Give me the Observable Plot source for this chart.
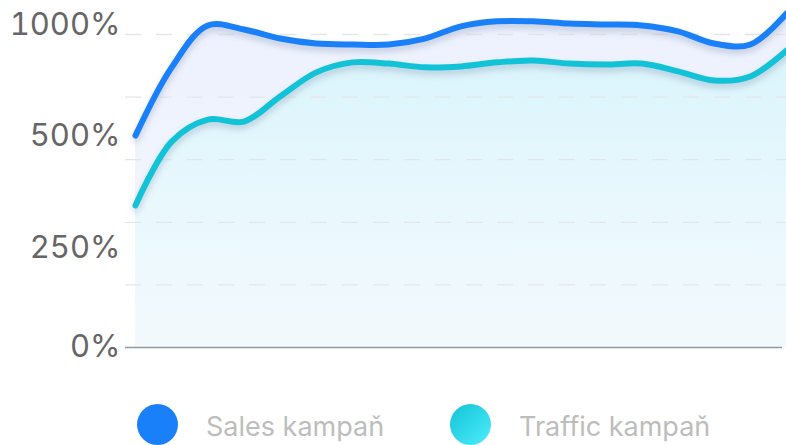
<!DOCTYPE html>
<html>
<head>
<meta charset="utf-8">
<script src="https://cdn.jsdelivr.net/npm/d3@7"></script>
<script src="https://cdn.jsdelivr.net/npm/@observablehq/plot@0.6"></script>
<style>
  body { margin: 0; background: #fff; font-family: Inter, "Noto Sans", sans-serif; }
  #wrap { position: relative; width: 786px; height: 445px; overflow: hidden; }
  .legend-item { position: absolute; top: 404px; height: 41px; display: flex; align-items: center; }
  .dot { width: 41px; height: 41px; border-radius: 50%; flex: none; }
  .label { margin-left: 28px; font-size: 27px; color: #bdbdbd; white-space: nowrap; position: relative; top: 2px; }
</style>
</head>
<body>
<div id="wrap"></div>
<script>
const periods = [1, 2, 3, 4, 5, 6, 7, 8, 9, 10, 11, 12, 13, 14, 15, 16, 17, 18, 19];
const sales   = [677, 895, 1029, 1016, 987, 971, 968, 968, 987, 1026, 1042, 1042, 1035, 1032, 1029, 1010, 971, 968, 1067];
const traffic = [454, 658, 728, 722, 802, 879, 911, 907, 895, 898, 911, 917, 907, 904, 907, 882, 853, 866, 949];
const seriesNames = ["Sales kampaň", "Traffic kampaň"];
const gridValues = [200, 400, 600, 800, 1000];
const yTickValues = [0, 318, 676, 1030];
const yTickLabels = ["0%", "250%", "500%", "1000%"];

const salesData = periods.map((p, i) => ({period: p, value: sales[i]}));
const trafficData = periods.map((p, i) => ({period: p, value: traffic[i]}));

const chart = Plot.plot({
  width: 786,
  height: 375,
  marginLeft: 125,
  marginRight: 0,
  marginTop: 34,
  marginBottom: 28,
  style: {fontFamily: "Inter, sans-serif", fontSize: "31px", color: "#666", background: "transparent", overflow: "visible"},
  x: {domain: [1, 19], insetLeft: 10, axis: null},
  y: {domain: [0, 1000], axis: null},
  marks: [
    Plot.areaY(salesData, {x: "period", y: "value", curve: "catmull-rom", fill: "url(#gSales)"}),
    Plot.areaY(trafficData, {x: "period", y: "value", curve: "catmull-rom", fill: "url(#gTraffic)"}),
    Plot.ruleY(gridValues, {stroke: "#e3e6e8", strokeWidth: 1.3, strokeDasharray: "16,15"}),
    Plot.ruleY([0], {stroke: "#8f9c9c", strokeWidth: 1.6, insetRight: 4}),
    Plot.axisY({ticks: yTickValues, tickFormat: (d, i) => yTickLabels[i], tickSize: 0, tickPadding: 5, fontSize: 31, label: null}),
    Plot.lineY(salesData, {x: "period", y: "value", curve: "catmull-rom", stroke: "#1a80fa", strokeWidth: 6}),
    Plot.lineY(trafficData, {x: "period", y: "value", curve: "catmull-rom", stroke: "#12c3d7", strokeWidth: 6})
  ]
});

const svg = d3.select(chart);
const defs = svg.insert("defs", ":first-child");
const g1 = defs.append("linearGradient").attr("id", "gSales").attr("x1", 0).attr("y1", 0).attr("x2", 0).attr("y2", 1);
g1.append("stop").attr("offset", "0%").attr("stop-color", "#ecf1fe");
g1.append("stop").attr("offset", "100%").attr("stop-color", "#f4f8fe");
const g2 = defs.append("linearGradient").attr("id", "gTraffic").attr("x1", 0).attr("y1", 0).attr("x2", 0).attr("y2", 1);
g2.append("stop").attr("offset", "0%").attr("stop-color", "#d9f4fb");
g2.append("stop").attr("offset", "50%").attr("stop-color", "#e8f8fd");
g2.append("stop").attr("offset", "100%").attr("stop-color", "#f3f9fd");
svg.selectAll('g[aria-label="line"] path').style("filter", "drop-shadow(0px 4px 3px rgba(40,60,110,0.22))");

const wrap = document.getElementById("wrap");
wrap.appendChild(chart);

const legendColors = ["#1a80fa", "linear-gradient(135deg, #12c3d7, #4eeefc)"];
const legendLefts = [137, 450];
seriesNames.forEach((name, i) => {
  const item = document.createElement("div");
  item.className = "legend-item";
  item.style.left = legendLefts[i] + "px";
  const dot = document.createElement("div");
  dot.className = "dot";
  dot.style.background = legendColors[i];
  const lab = document.createElement("span");
  lab.className = "label";
  lab.textContent = name;
  item.appendChild(dot);
  item.appendChild(lab);
  wrap.appendChild(item);
});
</script>
</body>
</html>
